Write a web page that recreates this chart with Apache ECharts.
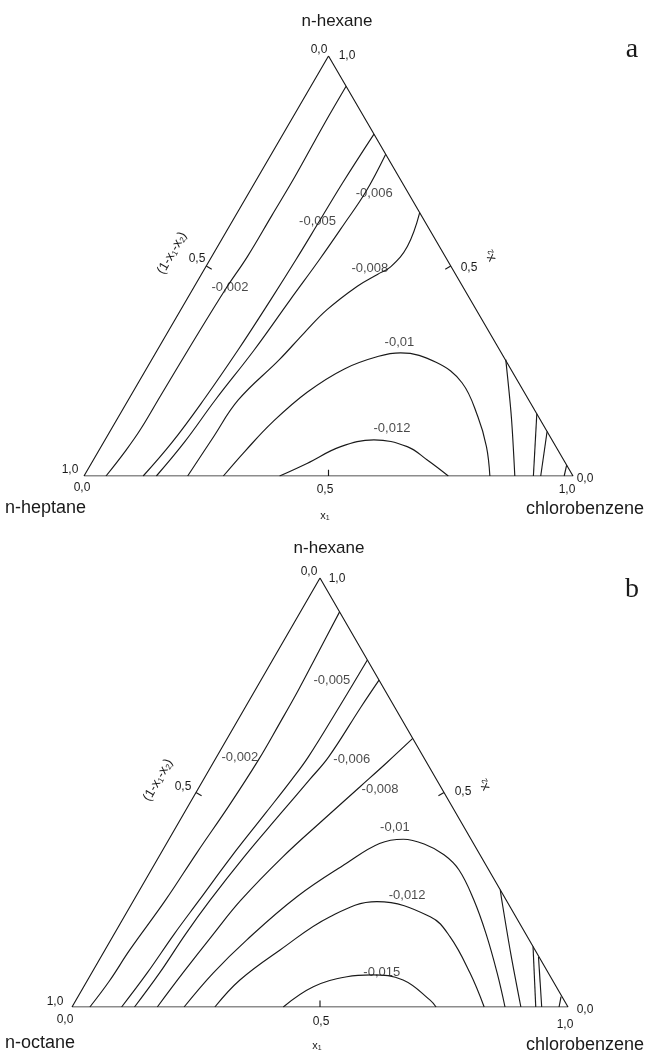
<!DOCTYPE html>
<html><head><meta charset="utf-8">
<script src="https://cdn.jsdelivr.net/npm/echarts@6/dist/echarts.min.js"></script>
<style>html,body{margin:0;padding:0;background:#fff}#c{width:645px;height:1054px}</style>
</head><body><div id="c"></div>
<script>
// ---------- DATA (ternary compositions [x1, x2]) ----------
const tickLabels = ['0,0', '0,5', '1,0'];
const compA = ['n-hexane', 'n-heptane', 'chlorobenzene'];
const compB = ['n-hexane', 'n-octane', 'chlorobenzene'];
const levelsA = ['-0,002', '-0,005', '-0,006', '-0,008', '-0,01', '-0,012'];
const levelsB = ['-0,002', '-0,005', '-0,006', '-0,008', '-0,01', '-0,012', '-0,015'];

// panel a contours
const a_m002 = [[0.045,0],[0.055,0.06],[0.060,0.11],[0.061,0.19],[0.063,0.31],[0.067,0.444],[0.073,0.523],[0.074,0.62],[0.075,0.71],[0.073,0.80],[0.072,0.86],[0.072,0.928]];
const a_m005 = [[0.121,0],[0.140,0.08],[0.154,0.181],[0.165,0.30],[0.172,0.42],[0.176,0.516],[0.178,0.607],[0.180,0.70],[0.186,0.814]];
const a_m006 = [[0.148,0],[0.165,0.08],[0.178,0.181],[0.198,0.30],[0.212,0.42],[0.224,0.516],[0.232,0.60],[0.238,0.676],[0.234,0.766]];
const a_m008 = [[0.212,0],[0.218,0.09],[0.225,0.181],[0.261,0.277],[0.280,0.341],[0.299,0.396],[0.333,0.452],[0.360,0.48],[0.378,0.498],[0.388,0.547],[0.373,0.627]];
const a_m010 = [[0.285,0],[0.300,0.060],[0.322,0.130],[0.357,0.200],[0.405,0.255],[0.460,0.285],[0.501,0.293],[0.586,0.270],[0.662,0.222],[0.735,0.141],[0.788,0.070],[0.830,0]];
const a_m012 = [[0.400,0],[0.441,0.030],[0.490,0.070],[0.550,0.086],[0.626,0.070],[0.683,0.038],[0.745,0]];
const a_r008 = [[0.724,0.277],[0.804,0.14],[0.881,0]];
const a_r006 = [[0.852,0.148],[0.919,0]];
const a_r005 = [[0.894,0.106],[0.934,0]];
const a_r002 = [[0.974,0.026],[0.982,0]];

// panel b contours
const b_m002 = [[0.036,0],[0.045,0.06],[0.050,0.133],[0.064,0.249],[0.072,0.36],[0.082,0.47],[0.088,0.576],[0.088,0.66],[0.087,0.739],[0.083,0.83],[0.079,0.921]];
const b_m005 = [[0.100,0],[0.112,0.08],[0.121,0.17],[0.132,0.249],[0.146,0.35],[0.164,0.45],[0.178,0.53],[0.185,0.583],[0.189,0.70],[0.191,0.809]];
const b_m006 = [[0.126,0],[0.137,0.08],[0.144,0.17],[0.154,0.249],[0.172,0.35],[0.195,0.45],[0.214,0.53],[0.226,0.583],[0.233,0.70],[0.238,0.762]];
const b_m008 = [[0.172,0],[0.184,0.08],[0.200,0.17],[0.216,0.249],[0.250,0.35],[0.290,0.44],[0.324,0.5135],[0.350,0.57],[0.374,0.626]];
const b_m010 = [[0.226,0],[0.245,0.079],[0.274,0.156],[0.325,0.257],[0.386,0.335],[0.4295,0.381],[0.4725,0.391],[0.520,0.380],[0.5725,0.355],[0.620,0.320],[0.685,0.250],[0.750,0.170],[0.817,0.080],[0.873,0]];
const b_m012 = [[0.288,0],[0.307,0.063],[0.353,0.133],[0.415,0.2105],[0.492,0.2455],[0.617,0.2105],[0.680,0.164],[0.763,0.079],[0.831,0]];
const b_m015 = [[0.426,0],[0.463,0.047],[0.519,0.0706],[0.567,0.075],[0.636,0.063],[0.714,0.016],[0.734,0]];
const b_r008 = [[0.727,0.273],[0.742,0.249],[0.822,0.125],[0.905,0]];
const b_r006 = [[0.859,0.141],[0.935,0]];
const b_r005 = [[0.882,0.117],[0.947,0]];
const b_r002 = [[0.974,0.024],[0.982,0]];

// label anchor compositions for the contour values
const a_labelAt = [[0.074,0.449],[0.175,0.605],[0.257,0.673],[0.337,0.495],[0.486,0.318],[0.573,0.1136]];
const b_labelAt = [[0.048,0.581],[0.143,0.762],[0.275,0.578],[0.367,0.508],[0.442,0.418],[0.546,0.2594],[0.584,0.081]];

// ---------- BUILD ----------
const tern = p => [p[0] + p[1] / 2, p[1]];
const INK = '#1a1a1a';
const FONT = '"Liberation Sans", Arial, sans-serif';

function lineSeries(idx, pts, smooth) {
  return { type: 'line', xAxisIndex: idx, yAxisIndex: idx, data: pts.map(tern),
    showSymbol: false, symbol: 'none', smooth: smooth, silent: true, animation: false,
    lineStyle: { color: INK, width: 1.15 }, z: 3 };
}
function panel(idx, contours, edges, labels, labelAt) {
  const s = [];
  s.push(lineSeries(idx, [[0,0],[1,0],[0,1],[0,0]], false));
  s.push(lineSeries(idx, [[0.5,0],[0.4925,0.015]], false));
  s.push(lineSeries(idx, [[0,0.5],[0.015,0.4925]], false));
  s.push(lineSeries(idx, [[0.5,0.5],[0.4925,0.4925]], false));
  contours.forEach(c => s.push(lineSeries(idx, c, 0.4)));
  edges.forEach(c => s.push(lineSeries(idx, c, 0.3)));
  s.push({ type: 'scatter', xAxisIndex: idx, yAxisIndex: idx, symbolSize: 0, silent: true, animation: false, z: 5,
    data: labels.map((t, i) => ({ name: t, value: tern(labelAt[i]) })),
    label: { show: true, position: 'inside', formatter: '{b}', fontFamily: FONT, fontSize: 13, color: INK } });
  return s;
}

const series = [].concat(
  panel(0, [a_m002, a_m005, a_m006, a_m008, a_m010, a_m012], [a_r008, a_r006, a_r005, a_r002], levelsA, a_labelAt),
  panel(1, [b_m002, b_m005, b_m006, b_m008, b_m010, b_m012, b_m015], [b_r008, b_r006, b_r005, b_r002], levelsB, b_labelAt)
);

function txt(x, y, text, size, align, extra) {
  return Object.assign({ type: 'text', x: x, y: y, silent: true,
    style: { text: text, fontFamily: FONT, fontSize: size, fill: INK, textAlign: align || 'center', textVerticalAlign: 'middle',
      rich: { s: { fontSize: Math.round(size * 0.62), fontFamily: FONT, fill: INK, padding: [Math.round(size*0.45), 0, 0, 0] } } } }, extra || {});
}
const ax1 = 'x{s|1}', ax2 = 'x{s|2}', axL = '(1-x{s|1}-x{s|2})';
const serif = '"Liberation Serif", "Times New Roman", serif';
const graphic = [
  // panel a
  txt(337, 21, compA[0], 17), txt(5, 508, compA[1], 18, 'left'), txt(644, 509, compA[2], 18, 'right'),
  { type: 'text', x: 632, y: 50, silent: true, style: { text: 'a', fontFamily: serif, fontSize: 28, fill: INK, textAlign: 'center', textVerticalAlign: 'middle' } },
  txt(319, 50, tickLabels[0], 12), txt(347, 56, tickLabels[2], 12),
  txt(70, 470, tickLabels[2], 12), txt(82, 488, tickLabels[0], 12),
  txt(585, 479, tickLabels[0], 12), txt(567, 490, tickLabels[2], 12),
  txt(325, 490, tickLabels[1], 12), txt(197, 259, tickLabels[1], 12), txt(469, 268, tickLabels[1], 12),
  txt(325, 516, ax1, 11),
  txt(172, 253, axL, 13, 'center', { rotation: Math.PI / 3 }),
  txt(490, 256, ax2, 13, 'center', { rotation: Math.PI * 2 / 3 }),
  // panel b
  txt(329, 548, compB[0], 17), txt(5, 1043, compB[1], 18, 'left'), txt(644, 1045, compB[2], 18, 'right'),
  { type: 'text', x: 632, y: 590, silent: true, style: { text: 'b', fontFamily: serif, fontSize: 28, fill: INK, textAlign: 'center', textVerticalAlign: 'middle' } },
  txt(309, 572, tickLabels[0], 12), txt(337, 579, tickLabels[2], 12),
  txt(55, 1002, tickLabels[2], 12), txt(65, 1020, tickLabels[0], 12),
  txt(585, 1010, tickLabels[0], 12), txt(565, 1025, tickLabels[2], 12),
  txt(321, 1022, tickLabels[1], 12), txt(183, 787, tickLabels[1], 12), txt(463, 792, tickLabels[1], 12),
  txt(317, 1046, ax1, 11),
  txt(158, 780, axL, 13, 'center', { rotation: Math.PI / 3 }),
  txt(484, 785, ax2, 13, 'center', { rotation: Math.PI * 2 / 3 })
];

const axisBase = { type: 'value', min: 0, max: 1, show: false };
const chart = echarts.init(document.getElementById('c'), null, { renderer: 'canvas' });
chart.setOption({
  animation: false,
  backgroundColor: '#fff',
  grid: [
    { left: 84, top: 56, width: 489, height: 420 },
    { left: 72, top: 578, width: 496, height: 429 }
  ],
  xAxis: [Object.assign({ gridIndex: 0 }, axisBase), Object.assign({ gridIndex: 1 }, axisBase)],
  yAxis: [Object.assign({ gridIndex: 0 }, axisBase), Object.assign({ gridIndex: 1 }, axisBase)],
  series: series,
  graphic: graphic
});
</script></body></html>
